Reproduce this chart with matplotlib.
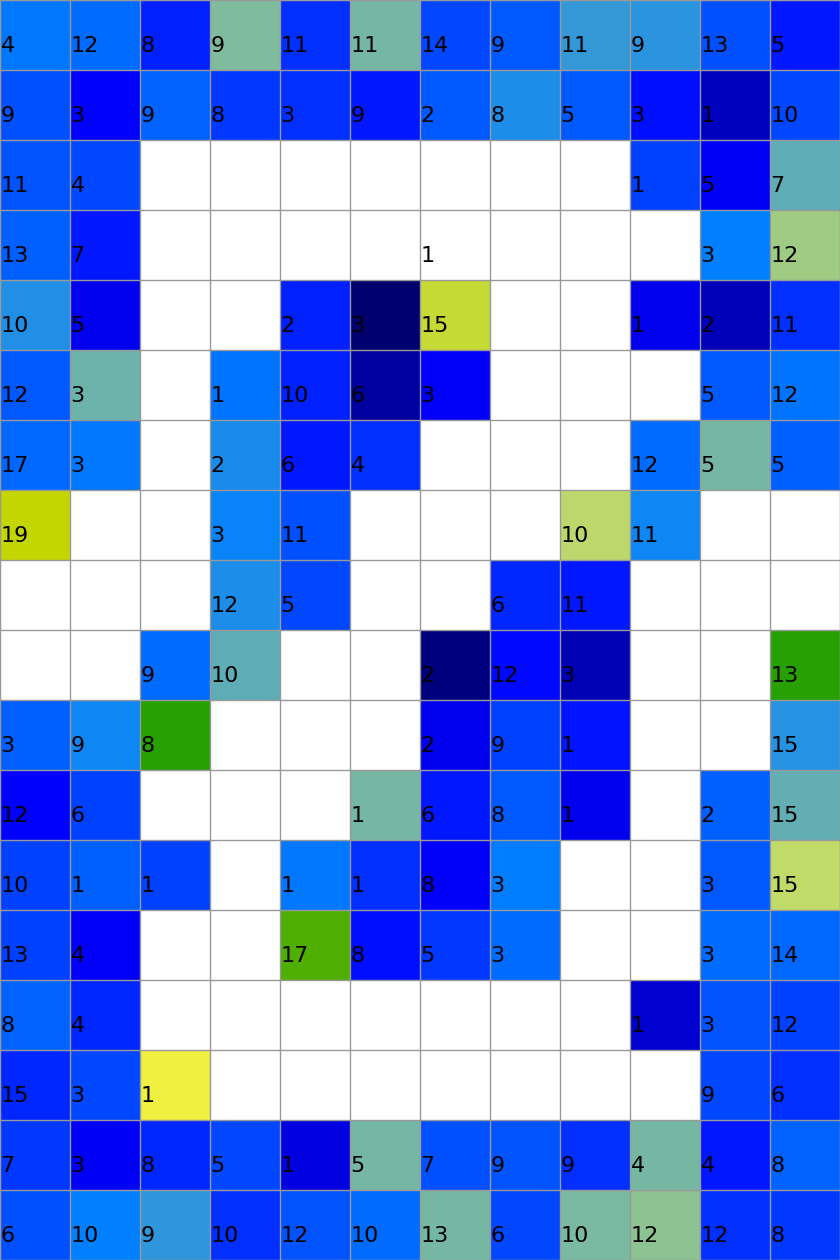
import numpy as np
import matplotlib
matplotlib.use('Agg')
import matplotlib.pyplot as plt
from matplotlib.colors import LinearSegmentedColormap

# Number written in each cell (None = no label)
N = None
labels = [
    [4, 12, 8, 9, 11, 11, 14, 9, 11, 9, 13, 5],
    [9, 3, 9, 8, 3, 9, 2, 8, 5, 3, 1, 10],
    [11, 4, N, N, N, N, N, N, N, 1, 5, 7],
    [13, 7, N, N, N, N, 1, N, N, N, 3, 12],
    [10, 5, N, N, 2, 3, 15, N, N, 1, 2, 11],
    [12, 3, N, 1, 10, 6, 3, N, N, N, 5, 12],
    [17, 3, N, 2, 6, 4, N, N, N, 12, 5, 5],
    [19, N, N, 3, 11, N, N, N, 10, 11, N, N],
    [N, N, N, 12, 5, N, N, 6, 11, N, N, N],
    [N, N, 9, 10, N, N, 2, 12, 3, N, N, 13],
    [3, 9, 8, N, N, N, 2, 9, 1, N, N, 15],
    [12, 6, N, N, N, 1, 6, 8, 1, N, 2, 15],
    [10, 1, 1, N, 1, 1, 8, 3, N, N, 3, 15],
    [13, 4, N, N, 17, 8, 5, 3, N, N, 3, 14],
    [8, 4, N, N, N, N, N, N, N, 1, 3, 12],
    [15, 3, 1, N, N, N, N, N, N, N, 9, 6],
    [7, 3, 8, 5, 1, 5, 7, 9, 9, 4, 4, 8],
    [6, 10, 9, 10, 12, 10, 13, 6, 10, 12, 12, 8],
]

# Colour value of each cell (nan = white)
n = np.nan
shade = [
    [1.94, 1.84, 1.25, 2.64, 1.38, 2.58, 1.56, 1.69, 2.25, 2.22, 1.63, 1.19],
    [1.63, 1.00, 1.78, 1.44, 1.38, 1.19, 1.69, 2.15, 1.69, 1.12, 0.59, 1.56],
    [1.66, 1.56, n, n, n, n, n, n, n, 1.50, 0.95, 2.47],
    [1.75, 1.19, n, n, n, n, n, n, n, n, 2.00, 2.80],
    [2.17, 0.90, n, n, 1.25, 0.08, 3.45, n, n, 0.90, 0.55, 1.38],
    [1.69, 2.55, n, 1.90, 1.25, 0.39, 0.97, n, n, n, 1.69, 1.90],
    [1.81, 1.94, n, 2.12, 1.19, 1.38, n, n, n, 1.84, 2.58, 1.75],
    [4.00, n, n, 2.05, 1.63, n, n, n, 2.95, 2.08, n, n],
    [n, n, n, 2.15, 1.56, n, n, 1.31, 1.19, n, n, n],
    [n, n, 1.84, 2.47, n, n, 0.18, 1.06, 0.52, n, n, 5.00],
    [1.75, 2.08, 5.00, n, n, n, 0.90, 1.50, 1.16, n, n, 2.18],
    [1.00, 1.50, n, n, n, 2.58, 1.19, 1.69, 0.90, n, 1.75, 2.50],
    [1.50, 1.75, 1.50, n, 1.94, 1.38, 0.97, 1.97, n, n, 1.69, 2.97],
    [1.50, 0.97, n, n, 4.73, 1.12, 1.44, 1.84, n, n, 1.84, 1.81],
    [1.78, 1.31, n, n, n, n, n, n, n, 0.71, 1.66, 1.50],
    [1.31, 1.56, 6.00, n, n, n, n, n, n, n, 1.56, 1.38],
    [1.44, 0.94, 1.31, 1.56, 0.81, 2.58, 1.63, 1.66, 1.38, 2.58, 1.19, 1.78],
    [1.63, 2.00, 2.23, 1.38, 1.66, 1.84, 2.60, 1.56, 2.61, 2.70, 1.38, 1.44],
]

nodes = ['#000064', '#0000ff', '#0080ff', '#c8de64', '#c4d600', '#24a000', '#f0f040']
cmap = LinearSegmentedColormap.from_list('cells', nodes)

data = np.array(shade, dtype=float)
rows, cols = data.shape

fig = plt.figure(figsize=(8.4, 12.6), dpi=100)
ax = fig.add_axes([0, 0, 1, 1])
ax.pcolormesh(np.ma.masked_invalid(data), cmap=cmap, vmin=0, vmax=len(nodes) - 1)

for r in range(rows):
    for c in range(cols):
        if labels[r][c] is not None:
            ax.text(c + 0.008, r + 0.745, str(labels[r][c]), ha='left', va='baseline',
                    fontsize=16, color='black')

ax.set_xlim(0, cols)
ax.set_ylim(rows, 0)
ax.set_xticks(range(cols + 1))
ax.set_yticks(range(rows + 1))
ax.grid(True, color='#999999', lw=1)
ax.set_axisbelow(False)
ax.tick_params(length=0, labelbottom=False, labelleft=False)
for s in ax.spines.values():
    s.set_color('#999999')

fig.savefig('out.png', dpi=100)
